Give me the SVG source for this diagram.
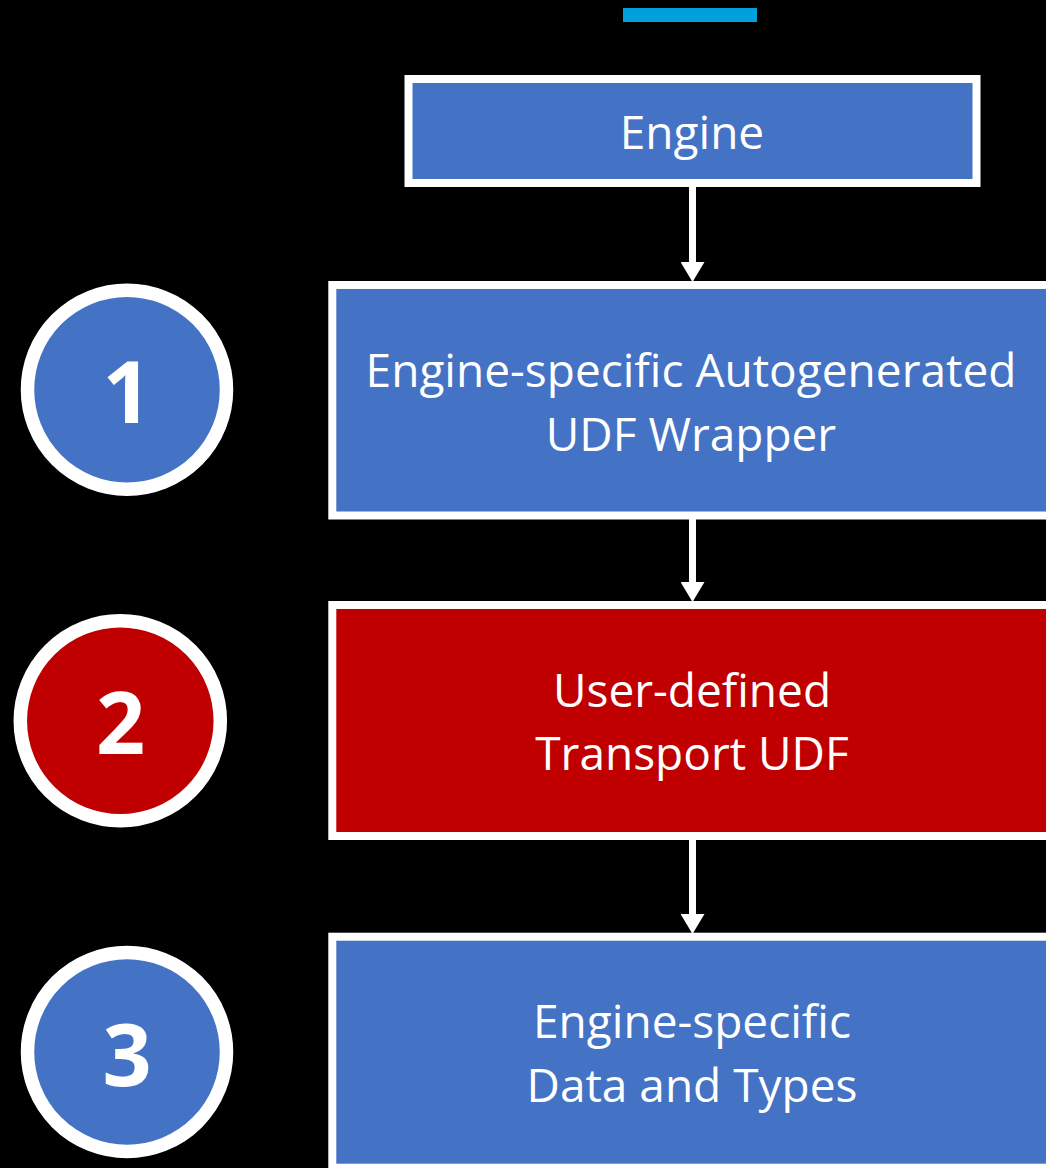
<svg xmlns="http://www.w3.org/2000/svg" width="1046" height="1168" viewBox="0 0 1046 1168">
  <style>
    .box { stroke: #ffffff; stroke-width: 8; }
    .blue { fill: #4472C4; }
    .red { fill: #C00000; }
    .badge { stroke: #ffffff; stroke-width: 13.5; }
    .label { font-family: "Open Sans", "Noto Sans", sans-serif; font-size: 46px; fill: #ffffff; text-anchor: middle; }
    .num { font-family: "Open Sans", "Noto Sans", sans-serif; font-size: 86px; font-weight: bold; fill: #ffffff; text-anchor: middle; }
    .wire { stroke: #ffffff; stroke-width: 7; fill: none; }
  </style>
  <defs>
    <marker id="arrow" viewBox="0 0 20 24" markerWidth="20" markerHeight="24" markerUnits="userSpaceOnUse" refX="0" refY="12" orient="auto">
      <path d="M0,0 L20,12 L0,24 Z" fill="#ffffff"/>
    </marker>
  </defs>

  <rect x="0" y="0" width="1046" height="1168" fill="#000000"/>

  <!-- accent bar -->
  <rect x="623" y="8" width="134" height="14" fill="#00A0DC"/>

  <g id="connectors">
    <path class="wire" d="M692.5,187 L692.5,262" marker-end="url(#arrow)"/>
    <path class="wire" d="M692.5,519 L692.5,582" marker-end="url(#arrow)"/>
    <path class="wire" d="M692.5,840 L692.5,914" marker-end="url(#arrow)"/>
  </g>

  <g id="engine">
    <rect class="box blue" x="408.5" y="79" width="568" height="104"/>
    <text class="label" x="692" y="149">Engine</text>
  </g>

  <g id="wrapper">
    <rect class="box blue" x="332.3" y="285" width="720" height="230.5"/>
    <text class="label" x="691" y="386.5">Engine-specific Autogenerated</text>
    <text class="label" x="691" y="451">UDF Wrapper</text>
  </g>

  <g id="transport">
    <rect class="box red" x="332.3" y="605" width="720" height="231"/>
    <text class="label" x="692" y="706.5">User-defined</text>
    <text class="label" x="692" y="770">Transport UDF</text>
  </g>

  <g id="data-types">
    <rect class="box blue" x="332.3" y="936.7" width="720" height="231"/>
    <text class="label" x="692" y="1038">Engine-specific</text>
    <text class="label" x="692" y="1101.5">Data and Types</text>
  </g>

  <g id="badge-1">
    <circle class="badge blue" cx="127" cy="389.7" r="99.5"/>
    <text class="num" x="127" y="422.7">1</text>
  </g>

  <g id="badge-2">
    <circle class="badge red" cx="120.3" cy="720.8" r="100"/>
    <text class="num" x="120.5" y="754.3">2</text>
  </g>

  <g id="badge-3">
    <circle class="badge blue" cx="127" cy="1052" r="99.5"/>
    <text class="num" x="127" y="1085.7">3</text>
  </g>
</svg>
